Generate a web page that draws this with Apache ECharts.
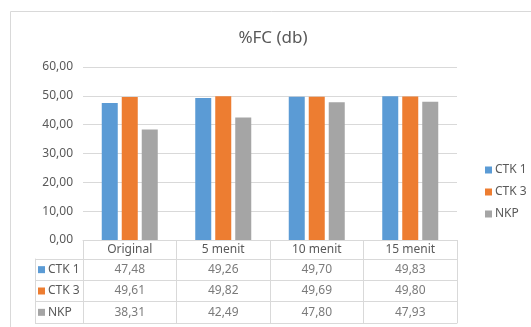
<!DOCTYPE html>
<html>
<head>
<meta charset="utf-8">
<script src="https://cdn.jsdelivr.net/npm/echarts@6/dist/echarts.min.js"></script>
<style>
  html, body { margin: 0; padding: 0; background: #fff; }
  #chart { width: 531px; height: 327px; }
</style>
</head>
<body>
<div id="chart"></div>
<script>
// Categories, series and axis ticks
const categories = ['Original', '5 menit', '10 menit', '15 menit'];
const seriesNames = ['CTK 1', 'CTK 3', 'NKP'];
const ctk1 = [47.48, 49.26, 49.70, 49.83];
const ctk3 = [49.61, 49.82, 49.69, 49.80];
const nkp = [38.31, 42.49, 47.80, 47.93];
const yTicks = { min: 0, max: 60, interval: 10 };

const colors = ['#5B9BD5', '#ED7D31', '#A5A5A5'];
const textColor = '#595959';
const lineColor = '#d9d9d9';
const font = 'Noto Sans';
const seriesValues = [ctk1, ctk3, nkp];

// decimal comma, two places
const fmt = v => Number(v).toFixed(2).replace('.', ',');

// cells of the data table: [column, row, value]
const tableCells = [];
seriesValues.forEach((vals, r) => vals.forEach((v, c) => tableCells.push([c, r, v])));

const rowRich = { t: { color: textColor, fontSize: 12, fontFamily: font, padding: [0, 0, 0, 3] } };
colors.forEach((c, i) => { rowRich['s' + i] = { width: 7, height: 7, backgroundColor: c }; });

const chart = echarts.init(document.getElementById('chart'));
chart.setOption({
  animation: false,
  color: colors,
  textStyle: { fontFamily: font, color: textColor },
  title: {
    text: '%FC (db)',
    left: 268, top: 25, textAlign: 'center',
    textStyle: { fontSize: 17, fontWeight: 'normal', color: textColor, fontFamily: font }
  },
  legend: {
    data: seriesNames,
    orient: 'vertical',
    left: 480, top: 159,
    icon: 'rect', itemWidth: 7, itemHeight: 7, itemGap: 10,
    textStyle: { fontSize: 12, color: textColor, fontFamily: font, padding: [0, 0, 0, -2] }
  },
  graphic: [{
    type: 'rect', z: -10, silent: true,
    shape: { x: 10.5, y: 11.5, width: 600, height: 400 },
    style: { fill: 'none', stroke: lineColor, lineWidth: 1 }
  }],
  grid: [
    { left: 83, right: 74, top: 67, bottom: 87 },
    { left: 83, right: 74, top: 259, bottom: 4 }
  ],
  xAxis: [
    {
      gridIndex: 0, type: 'category', data: categories,
      axisLine: { show: true, lineStyle: { color: lineColor } },
      axisTick: { show: true, length: 19, lineStyle: { color: lineColor } },
      axisLabel: { color: textColor, fontSize: 12, fontFamily: font, margin: 4 }
    },
    {
      gridIndex: 1, type: 'category', data: categories,
      axisLine: { show: true, lineStyle: { color: lineColor } },
      axisTick: { show: false },
      axisLabel: { show: false },
      splitLine: { show: true, lineStyle: { color: lineColor } }
    }
  ],
  yAxis: [
    {
      gridIndex: 0, type: 'value',
      min: yTicks.min, max: yTicks.max, interval: yTicks.interval,
      axisLine: { show: false }, axisTick: { show: false },
      axisLabel: { color: textColor, fontSize: 12, fontFamily: font, margin: 10, formatter: fmt },
      splitLine: { lineStyle: { color: lineColor } }
    },
    {
      gridIndex: 1, type: 'category', data: seriesNames, inverse: true,
      axisLine: { show: true, lineStyle: { color: lineColor } },
      axisTick: { show: true, length: 48, lineStyle: { color: lineColor } },
      splitLine: { show: true, lineStyle: { color: lineColor } },
      axisLabel: {
        align: 'left', margin: 45,
        formatter: (v, i) => '{s' + i + '|}{t|' + v + '}',
        rich: rowRich
      }
    },
    {
      // outer left edge of the legend column
      gridIndex: 1, type: 'category', data: seriesNames, position: 'left', offset: 48,
      axisLine: { show: true, lineStyle: { color: lineColor } },
      axisTick: { show: false }, axisLabel: { show: false }, splitLine: { show: false }
    }
  ],
  series: [
    ...seriesNames.map((name, i) => ({
      name, type: 'bar', xAxisIndex: 0, yAxisIndex: 0,
      data: seriesValues[i], barWidth: 16, barGap: '25%'
    })),
    {
      type: 'scatter', xAxisIndex: 1, yAxisIndex: 1, silent: true,
      symbolSize: 0, data: tableCells,
      label: {
        show: true, position: 'inside',
        color: textColor, fontSize: 12, fontFamily: font,
        formatter: p => fmt(p.value[2])
      }
    }
  ]
});
</script>
</body>
</html>
